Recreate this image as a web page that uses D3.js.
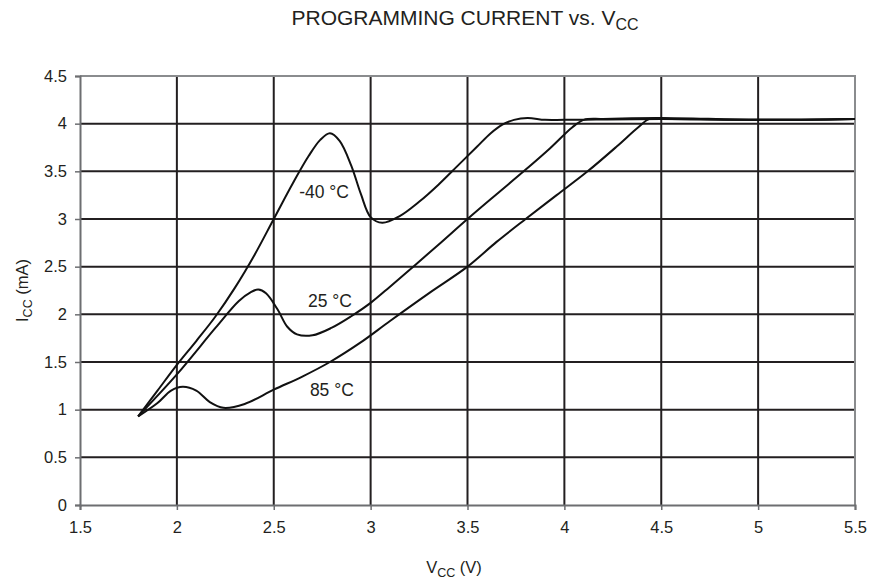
<!DOCTYPE html>
<html>
<head>
<meta charset="utf-8">
<script src="https://cdn.jsdelivr.net/npm/d3@7"></script>
<style>
  body { margin: 0; background: #fff; }
  text { font-family: "Liberation Sans", Arial, sans-serif; fill: #231f20; }
</style>
</head>
<body>
<script>
// tick values
var xTicks = [1.5, 2, 2.5, 3, 3.5, 4, 4.5, 5, 5.5]
var yTicks = [0, 0.5, 1, 1.5, 2, 2.5, 3, 3.5, 4, 4.5]

// -40 C curve
var vccCold = [1.8, 1.9, 2.0, 2.1, 2.2, 2.3, 2.4, 2.5, 2.6, 2.68, 2.74, 2.79, 2.84, 2.9, 2.95, 3.0, 3.06, 3.15, 3.25, 3.35, 3.45, 3.55, 3.62, 3.68, 3.74, 3.81, 3.9, 4.0, 4.5, 5.0, 5.5]
var iccCold = [0.93, 1.2, 1.47, 1.72, 1.98, 2.28, 2.62, 3.0, 3.38, 3.66, 3.83, 3.9, 3.82, 3.56, 3.26, 3.02, 2.96, 3.03, 3.18, 3.36, 3.56, 3.76, 3.9, 3.99, 4.04, 4.06, 4.04, 4.04, 4.05, 4.04, 4.05]

// 25 C curve
var vccRoom = [1.8, 2.0, 2.2, 2.32, 2.38, 2.42, 2.46, 2.52, 2.57, 2.62, 2.7, 2.8, 2.9, 3.0, 3.1, 3.22, 3.35, 3.5, 3.65, 3.79, 3.925, 4.04, 4.1, 4.2, 4.5, 5.0, 5.5]
var iccRoom = [0.93, 1.37, 1.86, 2.14, 2.23, 2.26, 2.22, 2.05, 1.87, 1.79, 1.78, 1.86, 1.98, 2.12, 2.29, 2.5, 2.73, 3.0, 3.26, 3.5, 3.74, 3.96, 4.04, 4.05, 4.06, 4.04, 4.05]

// 85 C curve
var vccHot = [1.8, 1.9, 1.97, 2.03, 2.1, 2.17, 2.24, 2.35, 2.5, 2.65, 2.79, 2.945, 3.1, 3.3, 3.5, 3.65, 3.8, 3.96, 4.12, 4.27, 4.38, 4.44, 4.55, 5.0, 5.5]
var iccHot = [0.93, 1.07, 1.2, 1.24, 1.2, 1.08, 1.02, 1.06, 1.21, 1.35, 1.5, 1.7, 1.93, 2.22, 2.5, 2.76, 3.0, 3.25, 3.5, 3.76, 3.96, 4.05, 4.05, 4.04, 4.05]

var curveLabels = ["-40 \u00b0C", "25 \u00b0C", "85 \u00b0C"]
var labelVcc = [2.76, 2.79, 2.8]
var labelIcc = [3.22, 2.08, 1.14]

var w = 872
var h = 582

var svg = d3.select("body")
    .append("svg")
    .attr("width", w)
    .attr("height", h)

var xScale = d3.scaleLinear()
    .domain([1.5, 5.5])
    .range([80, 855])

var yScale = d3.scaleLinear()
    .domain([0, 4.5])
    .range([505, 76])

// grid lines
svg.append("g")
    .selectAll("line")
    .data(xTicks.slice(1, -1))
    .enter()
    .append("line")
    .attr("x1", function(d) { return xScale(d) })
    .attr("x2", function(d) { return xScale(d) })
    .attr("y1", yScale(0))
    .attr("y2", yScale(4.5))
    .attr("stroke", "#231f20")
    .attr("stroke-width", 2)

svg.append("g")
    .selectAll("line")
    .data(yTicks.slice(1, -1))
    .enter()
    .append("line")
    .attr("x1", xScale(1.5))
    .attr("x2", xScale(5.5))
    .attr("y1", function(d) { return yScale(d) })
    .attr("y2", function(d) { return yScale(d) })
    .attr("stroke", "#231f20")
    .attr("stroke-width", 2)

// top and right border
svg.append("path")
    .attr("d", "M" + xScale(1.5) + "," + yScale(4.5) + "H" + xScale(5.5) + "V" + yScale(0))
    .attr("fill", "none")
    .attr("stroke", "#8a8c8e")
    .attr("stroke-width", 2)

// axes
var xAxis = d3.axisBottom(xScale)
    .tickValues(xTicks)
    .tickSize(5)
    .tickPadding(11)
    .tickFormat(d3.format("~g"))

var yAxis = d3.axisLeft(yScale)
    .tickValues(yTicks)
    .tickSize(5)
    .tickPadding(8)
    .tickFormat(d3.format("~g"))

var gx = svg.append("g")
    .attr("transform", "translate(0," + yScale(0) + ")")
    .call(xAxis)

var gy = svg.append("g")
    .attr("transform", "translate(" + xScale(1.5) + ",0)")
    .call(yAxis)

;[gx, gy].forEach(function(g) {
    g.select(".domain").attr("stroke", "#6d6e71").attr("stroke-width", 2)
    g.selectAll(".tick line").attr("stroke", "#6d6e71").attr("stroke-width", 1.5)
    g.selectAll(".tick text")
        .attr("font-size", 16.5)
        .attr("font-family", "'Liberation Sans', Arial, sans-serif")
        .attr("fill", "#231f20")
})

// curves
var line = d3.line()
    .x(function(d) { return xScale(d[0]) })
    .y(function(d) { return yScale(d[1]) })
    .curve(d3.curveCatmullRom.alpha(0.5))

var series = [
    d3.zip(vccCold, iccCold),
    d3.zip(vccRoom, iccRoom),
    d3.zip(vccHot, iccHot)
]

svg.selectAll(".curve")
    .data(series)
    .enter()
    .append("path")
    .attr("class", "curve")
    .attr("d", line)
    .attr("fill", "none")
    .attr("stroke", "#111")
    .attr("stroke-width", 2)

// curve labels
svg.selectAll(".clabel")
    .data(curveLabels)
    .enter()
    .append("text")
    .attr("class", "clabel")
    .attr("x", function(d, i) { return xScale(labelVcc[i]) })
    .attr("y", function(d, i) { return yScale(labelIcc[i]) })
    .attr("text-anchor", "middle")
    .attr("font-size", 17.5)
    .text(function(d) { return d })

// title
var title = svg.append("text")
    .attr("x", 465)
    .attr("y", 25)
    .attr("text-anchor", "middle")
    .attr("font-size", 21)
title.append("tspan").text("PROGRAMMING CURRENT vs. V")
title.append("tspan").attr("font-size", 16).attr("dy", 5).text("CC")

// x label
var xl = svg.append("text")
    .attr("x", 454)
    .attr("y", 573)
    .attr("text-anchor", "middle")
    .attr("font-size", 16.5)
xl.append("tspan").text("V")
xl.append("tspan").attr("font-size", 12.5).attr("dy", 4).text("CC")
xl.append("tspan").attr("dy", -4).text(" (V)")

// y label
var yl = svg.append("text")
    .attr("text-anchor", "middle")
    .attr("transform", "translate(28," + yScale(2.25) + ") rotate(-90)")
    .attr("font-size", 16.5)
yl.append("tspan").text("I")
yl.append("tspan").attr("font-size", 12.5).attr("dy", 4).text("CC")
yl.append("tspan").attr("dy", -4).text(" (mA)")
</script>
</body>
</html>
